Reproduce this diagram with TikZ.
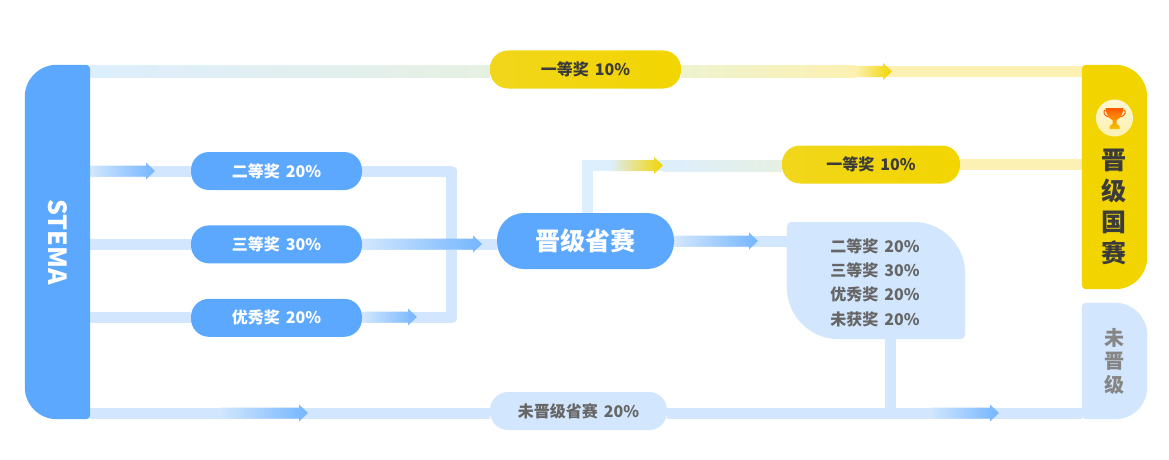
\documentclass[tikz,border=0pt]{standalone}
\usepackage{fontspec}
\setmainfont{Noto Sans CJK SC}
\usetikzlibrary{positioning}
\usetikzlibrary{calc}
\usetikzlibrary{backgrounds}

\definecolor{bluemain}{HTML}{5CA8FF}
\definecolor{bluepale}{HTML}{D2E7FD}
\definecolor{bluefaint}{HTML}{DDEEFD}
\definecolor{greenfaint}{HTML}{E6F0E2}
\definecolor{yellowmain}{HTML}{F2D500}
\definecolor{yellowsoft}{HTML}{F1D61C}
\definecolor{yellowpale}{HTML}{FCF1B2}
\definecolor{yellowgreen}{HTML}{EEF3CF}
\definecolor{textdark}{HTML}{3B3B3B}
\definecolor{textgrey}{HTML}{666666}

% box with its own radius on each corner: name, colour, tl, tr, br, bl
\newcommand{\cornerbox}[6]{
  \fill[#2] ([xshift=#3]#1.north west) -- ([xshift=-#4]#1.north east)
    arc[start angle=90,end angle=0,radius=#4] -- ([yshift=#5]#1.south east)
    arc[start angle=0,end angle=-90,radius=#5] -- ([xshift=#6]#1.south west)
    arc[start angle=-90,end angle=-180,radius=#6] -- ([yshift=-#3]#1.north west)
    arc[start angle=180,end angle=90,radius=#3] -- cycle;
}
% shaded arrow over a flow line: start, tip, colour, colour
\newcommand{\flowarrow}[4]{
  \path[left color=#3,right color=#4] ($(#1)+(0,5.5)$) -- ($(#2)+(-9,5.5)$) -- ($(#2)+(-9,8.5)$) -- (#2)
    -- ($(#2)+(-9,-8.5)$) -- ($(#2)+(-9,-5.5)$) -- ($(#1)+(0,-5.5)$) -- cycle;
}
% shaded stretch of a flow line
\newcommand{\flowshade}[4]{
  \path[left color=#3,right color=#4] ($(#1)+(0,5.5)$) rectangle ($(#2)+(0,-5.5)$);
}

\begin{document}
\begin{tikzpicture}[x=1pt,y=1pt]
  \tikzstyle{every node}=[inner sep=0pt, align=center, font=\fontsize{16}{16}\bfseries]
  \tikzstyle{bluepill}=[fill=bluemain, text=white, minimum width=171pt, minimum height=38pt, rounded corners=18pt]
  \tikzstyle{yellowpill}=[left color=yellowsoft, right color=yellowmain, text=textdark, minimum height=38pt, rounded corners=18pt]
  \tikzstyle{palepill}=[fill=bluepale, text=textgrey, minimum width=177pt, minimum height=38pt, rounded corners=18pt]
  \tikzstyle{flow}=[draw=bluepale, line width=11pt]
  \useasboundingbox (0,0) rectangle (1169,-460);

  \node[minimum width=65pt, minimum height=354pt] (stema) at (57.5,-242) {};
  \node[text=white, rotate=-90, font=\fontsize{25}{25}\bfseries] (stematext) at (stema.center) {STEMA};

  \node[bluepill] (erdeng) at (276.5,-171) {二等奖\hspace{6pt}20\%};
  \node[bluepill, below=35pt of erdeng] (sandeng) {三等奖\hspace{6pt}30\%};
  \node[bluepill, below=35pt of sandeng] (youxiu) {优秀奖\hspace{6pt}20\%};
  \node[yellowpill, minimum width=191pt] (yideng) at (585.5,-69.5) {一等奖\hspace{6pt}10\%};
  \node[palepill] (weijin) at (578.5,-411) {未晋级省赛\hspace{6pt}20\%};
  \node[fill=bluemain, text=white, minimum width=177pt, minimum height=56pt, rounded corners=27pt, font=\fontsize{25}{25}\bfseries] (sheng) at (585.5,-241) {晋级省赛};
  \node[yellowpill, minimum width=178pt] (yidengb) at (871,-164.5) {一等奖\hspace{6pt}10\%};

  \node[minimum width=178pt, minimum height=117pt] (result) at (876,-280.5) {};
  \node[text=textgrey, font=\fontsize{16}{24.4}\bfseries] (resulttext) at (875,-282.5) {二等奖\hspace{6pt}20\%\\三等奖\hspace{6pt}30\%\\优秀奖\hspace{6pt}20\%\\未获奖\hspace{6pt}20\%};

  \node[minimum width=65pt, minimum height=224pt] (guosai) at (1114.5,-177) {};
  \node[text=textdark, font=\fontsize{25}{31}\bfseries] (guosaitext) at (1114,-206.5) {晋\\级\\国\\赛};
  \node[minimum width=65pt, minimum height=116pt] (weiji) at (1114.5,-361) {};
  \node[text=textgrey!80, font=\fontsize{20}{23.5}\bfseries] (weijitext) at (weiji.center) {未\\晋\\级};

  % turning points and arrow tips
  \coordinate (topline) at (90,-71.5);
  \coordinate (botline) at (90,-413);
  \coordinate (collect) at (451.5,-171);
  \coordinate (shengup) at (587.5,-165.5);
  \coordinate (tipa) at (155,-171);
  \coordinate (tipb) at (482,-244);
  \coordinate (tipc) at (417,-317);
  \coordinate (tipd) at (308,-413);
  \coordinate (tipe) at (892,-71.5);
  \coordinate (tipf) at (663,-165.5);
  \coordinate (tipg) at (758,-241);
  \coordinate (tiph) at (999,-413);
  \coordinate (drop) at (890.5,-413);

  \begin{pgfonlayer}{background}
    \draw[flow] (stema.east |- erdeng) -- (erdeng);
    \draw[flow] (stema.east |- sandeng) -- (sandeng);
    \draw[flow] (stema.east |- youxiu) -- (youxiu);
    \draw[flow] (botline) -- (botline -| weijin.west);
    \draw[flow] (botline -| weijin.east) -- (botline -| weiji.west);
    \draw[flow, line join=round] (erdeng) -- (collect) -- (collect |- youxiu) -- (youxiu);
    \draw[flow] (sandeng) -- (sandeng -| sheng.west);
    \draw[flow] (sheng) -- (sheng -| result.west);
    \draw[flow] (result.south -| drop) -- (drop);
    \draw[flow, draw=bluefaint] (sheng.north -| shengup) -- (shengup) -- (shengup -| yidengb.west);
    \draw[flow, draw=yellowpale] (yidengb) -- (yidengb -| guosai.west);
    \draw[flow, draw=bluefaint] (topline) -- (topline -| yideng.west);
    \draw[flow, draw=yellowpale] (topline -| yideng.east) -- (topline -| guosai.west);

    \flowshade{topline}{topline -| yideng.west}{bluefaint}{greenfaint}
    \flowshade{topline -| yideng.east}{855,-71.5}{yellowgreen}{yellowpale}
    \flowshade{tipf}{shengup -| yidengb.west}{bluefaint}{greenfaint}

    \flowarrow{stema.east |- tipa}{tipa}{bluepale}{bluemain!85}
    \flowarrow{sandeng.east |- tipb}{tipb}{bluepale}{bluemain!85}
    \flowarrow{youxiu.east |- tipc}{tipc}{bluepale}{bluemain!85}
    \flowarrow{220,-413}{tipd}{bluepale}{bluemain!85}
    \flowarrow{sheng.east |- tipg}{tipg}{bluepale}{bluemain!85}
    \flowarrow{930,-413}{tiph}{bluepale}{bluemain!85}
    \flowarrow{855,-71.5}{tipe}{yellowpale}{yellowmain}
    \flowarrow{610,-165.5}{tipf}{bluefaint}{yellowmain}

    \cornerbox{stema}{bluemain}{32pt}{4pt}{4pt}{32pt}
    \cornerbox{guosai}{yellowmain}{4pt}{32pt}{32pt}{4pt}
    \cornerbox{weiji}{bluepale}{4pt}{32pt}{32pt}{4pt}
    \cornerbox{result}{bluepale}{5pt}{52pt}{5pt}{52pt}
  \end{pgfonlayer}

  % trophy
  \node[circle, minimum size=37pt, top color=yellowpale!60!white, bottom color=yellowpale] (cupback) at (1114.5,-118) {};
  \path[top color=orange!70!red, bottom color=yellowmain!80!orange]
    ($(cupback)+(-9,10)$) -- ($(cupback)+(9,10)$) .. controls ($(cupback)+(8,1)$) and ($(cupback)+(4,-1)$) .. ($(cupback)+(2,-2)$)
    -- ($(cupback)+(2,-6)$) -- ($(cupback)+(5,-8)$) -- ($(cupback)+(5,-11)$) -- ($(cupback)+(-5,-11)$) -- ($(cupback)+(-5,-8)$)
    -- ($(cupback)+(-2,-6)$) -- ($(cupback)+(-2,-2)$) .. controls ($(cupback)+(-4,-1)$) and ($(cupback)+(-8,1)$) .. cycle;
  \draw[orange!70!red, line width=1pt] ($(cupback)+(-9,8)$) .. controls ($(cupback)+(-12,8)$) and ($(cupback)+(-11,2)$) .. ($(cupback)+(-6,1)$);
  \draw[orange!70!red, line width=1pt] ($(cupback)+(9,8)$) .. controls ($(cupback)+(12,8)$) and ($(cupback)+(11,2)$) .. ($(cupback)+(6,1)$);
\end{tikzpicture}
\end{document}
